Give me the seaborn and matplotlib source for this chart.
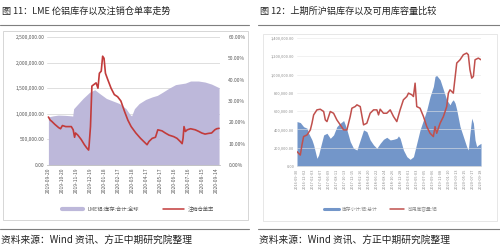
"""
LME / SHFE aluminium inventory panels (fig 11 and fig 12)
Output: out.png
"""

import matplotlib.pyplot as plt
import matplotlib.ticker as mticker
from matplotlib.lines import Line2D
from matplotlib.patches import Rectangle
import numpy as np
import pandas as pd
import seaborn as sns

sns.set_style('white')
plt.rcParams['font.family'] = ['Noto Sans CJK SC', 'DejaVu Sans']
plt.rcParams['axes.unicode_minus'] = False

AREA_PURPLE = '#BDB8DA'
LINE_RED = '#C23B3B'
AREA_BLUE = '#7396C9'
LINE_RED2 = '#C0504D'
GRID = '#D9D9D9'
TICK = '#595959'

# ---- fig 11: LME aluminium stock and cancelled warrant ratio ----
lme_dates = ['2019-09-20', '2019-09-30', '2019-10-11', '2019-10-25', '2019-11-08',
             '2019-11-11', '2019-11-13', '2019-11-23', '2019-12-03', '2019-12-17',
             '2019-12-28', '2020-01-07', '2020-01-22', '2020-02-05', '2020-02-19',
             '2020-03-04', '2020-03-13', '2020-03-16', '2020-03-22', '2020-04-01',
             '2020-04-15', '2020-04-29', '2020-05-10', '2020-05-21', '2020-06-04',
             '2020-06-18', '2020-07-09', '2020-07-20', '2020-08-06', '2020-08-20',
             '2020-09-03', '2020-09-19']
lme_stock = [940000, 960000, 975000, 970000, 960000,
             955000, 1100000, 1200000, 1300000, 1420000,
             1470000, 1400000, 1300000, 1250000, 1200000,
             1100000, 980000, 960000, 1100000, 1200000,
             1280000, 1330000, 1360000, 1420000, 1500000,
             1570000, 1600000, 1640000, 1640000, 1620000,
             1580000, 1510000]

ratio_dates = ['2019-09-20', '2019-09-24', '2019-09-27', '2019-10-04', '2019-10-12',
               '2019-10-16', '2019-10-20', '2019-10-27', '2019-11-08', '2019-11-12',
               '2019-11-15', '2019-11-17', '2019-11-22', '2019-11-29', '2019-12-06',
               '2019-12-11', '2019-12-15', '2019-12-16', '2019-12-19', '2019-12-22',
               '2019-12-28', '2019-12-31', '2020-01-04', '2020-01-07', '2020-01-11',
               '2020-01-14', '2020-01-17', '2020-01-20', '2020-01-25', '2020-02-01',
               '2020-02-08', '2020-02-15', '2020-02-22', '2020-03-01', '2020-03-08',
               '2020-03-15', '2020-03-25', '2020-04-04', '2020-04-11', '2020-04-18',
               '2020-04-22', '2020-04-29', '2020-05-06', '2020-05-11', '2020-05-20',
               '2020-05-27', '2020-06-04', '2020-06-14', '2020-06-21', '2020-06-28',
               '2020-07-02', '2020-07-04', '2020-07-06', '2020-07-09', '2020-07-13',
               '2020-07-20', '2020-07-30', '2020-08-06', '2020-08-13', '2020-08-20',
               '2020-08-27', '2020-09-03', '2020-09-10', '2020-09-14', '2020-09-19']
ratio_pct = [22.5, 21.0, 20.5, 19.0, 17.5,
             17.0, 18.5, 18.0, 18.0, 16.5,
             13.0, 15.0, 14.0, 12.0, 9.5,
             8.0, 7.0, 9.0, 18.0, 37.0,
             38.0, 38.5, 36.0, 43.0, 44.0,
             51.0, 50.0, 43.0, 40.0, 36.0,
             33.0, 32.0, 30.0, 25.0, 21.0,
             18.0, 15.0, 12.5, 11.0, 9.5,
             11.0, 12.5, 13.0, 16.5, 16.0,
             15.0, 14.0, 13.3, 12.5, 11.0,
             10.0, 12.5, 18.0, 15.7, 16.5,
             17.0, 16.5, 15.8, 15.0, 14.5,
             14.8, 15.0, 16.5, 17.0, 17.2]

lme_ticks = ['2019-09-20', '2019-10-20', '2019-11-19', '2019-12-19', '2020-01-18',
             '2020-02-17', '2020-03-18', '2020-04-17', '2020-05-17', '2020-06-16',
             '2020-07-16', '2020-08-15', '2020-09-14']

# ---- fig 12: SHFE aluminium stock and available capacity ----
shfe_dates = ['2016-09-30', '2016-10-26', '2016-11-21', '2016-12-18', '2016-12-31',
              '2017-01-26', '2017-02-08', '2017-02-21', '2017-03-06', '2017-03-19',
              '2017-04-01', '2017-04-28', '2017-05-24', '2017-06-19', '2017-07-15',
              '2017-08-10', '2017-09-06', '2017-10-02', '2017-10-15', '2017-10-28',
              '2017-11-23', '2017-12-19', '2018-01-15', '2018-02-10', '2018-03-08',
              '2018-04-03', '2018-04-29', '2018-05-26', '2018-06-21', '2018-07-17',
              '2018-08-12', '2018-09-07', '2018-10-04', '2018-10-30', '2018-11-25',
              '2018-12-08', '2018-12-21', '2019-01-16', '2019-02-12', '2019-03-10',
              '2019-04-05', '2019-05-01', '2019-05-27', '2019-06-23', '2019-07-19',
              '2019-08-14', '2019-09-09', '2019-09-22', '2019-10-05', '2019-11-01',
              '2019-11-27', '2019-12-23', '2020-01-18', '2020-01-31', '2020-02-13',
              '2020-02-27', '2020-03-11', '2020-04-06', '2020-05-02', '2020-05-28',
              '2020-06-10', '2020-06-23', '2020-07-07', '2020-07-20', '2020-08-02',
              '2020-08-15', '2020-08-28', '2020-09-18']
shfe_stock = [486000, 475000, 430000, 413000, 358000,
              285000, 230000, 157000, 84000, 120000,
              194000, 340000, 358000, 303000, 340000,
              431000, 468000, 497000, 450000, 395000,
              267000, 194000, 175000, 285000, 395000,
              376000, 285000, 230000, 194000, 248000,
              292000, 314000, 285000, 292000, 303000,
              329000, 303000, 175000, 102000, 73000,
              102000, 248000, 395000, 504000, 614000,
              760000, 870000, 980000, 990000, 943000,
              833000, 724000, 669000, 705000, 724000,
              687000, 614000, 431000, 322000, 212000,
              175000, 358000, 523000, 468000, 285000,
              212000, 230000, 248000]

cap_dates = ['2016-09-30', '2016-10-26', '2016-11-08', '2016-11-21', '2016-12-18',
             '2017-01-13', '2017-01-26', '2017-02-08', '2017-03-06', '2017-04-01',
             '2017-04-28', '2017-05-11', '2017-05-24', '2017-06-19', '2017-07-15',
             '2017-08-10', '2017-09-06', '2017-10-02', '2017-10-28', '2017-11-23',
             '2017-12-06', '2018-01-01', '2018-01-15', '2018-02-10', '2018-03-08',
             '2018-04-03', '2018-04-29', '2018-05-26', '2018-06-21', '2018-07-04',
             '2018-07-17', '2018-08-12', '2018-09-07', '2018-10-04', '2018-10-30',
             '2018-11-25', '2018-12-21', '2019-01-16', '2019-02-12', '2019-02-25',
             '2019-03-23', '2019-04-05', '2019-04-18', '2019-05-01', '2019-05-27',
             '2019-06-23', '2019-07-19', '2019-08-14', '2019-09-09', '2019-09-22',
             '2019-10-05', '2019-11-01', '2019-11-27', '2019-12-23', '2020-01-05',
             '2020-01-18', '2020-01-31', '2020-02-13', '2020-03-11', '2020-04-06',
             '2020-05-02', '2020-05-28', '2020-06-10', '2020-06-23', '2020-07-07',
             '2020-07-20', '2020-08-02', '2020-08-28', '2020-09-18']
cap_value = [157000, 120000, 230000, 322000, 340000,
             395000, 468000, 559000, 614000, 621000,
             596000, 504000, 486000, 596000, 577000,
             504000, 450000, 395000, 395000, 541000,
             632000, 650000, 669000, 650000, 450000,
             468000, 577000, 614000, 614000, 559000,
             621000, 577000, 577000, 614000, 541000,
             486000, 614000, 724000, 760000, 797000,
             779000, 760000, 906000, 650000, 632000,
             541000, 431000, 358000, 322000, 431000,
             358000, 468000, 541000, 650000, 797000,
             833000, 815000, 797000, 1126000, 1162000,
             1217000, 1235000, 1217000, 1053000, 961000,
             980000, 1162000, 1180000, 1162000]

titles = ['图 11：LME 伦铝库存以及注销仓单率走势', '图 12：上期所沪铝库存以及可用库容量比较']
source = '资料来源：Wind 资讯、方正中期研究院整理'

W, H = 500, 249


def fx(px):
    return px / W


def fy(py):
    return 1 - py / H


def frame(fig, x0, x1, title):
    fig.text(fx(x0 + 2), fy(11), title, fontsize=6.6, color='#222222', va='center')
    fig.add_artist(Line2D([fx(x0), fx(x1)], [fy(25), fy(25)], color='#7F7F7F', lw=0.8))
    fig.add_artist(Line2D([fx(x0), fx(x1)], [fy(229), fy(229)], color='#7F7F7F', lw=0.8))
    fig.text(fx(x0 + 1), fy(240), source, fontsize=7.0, color='#222222', va='center')


fig = plt.figure(figsize=(5.0, 2.49), dpi=100)

frame(fig, 0, 249, titles[0])
frame(fig, 258, 500, titles[1])
fig.add_artist(Rectangle((fx(3), fy(220)), fx(245), (220 - 31) / H, transform=fig.transFigure,
                         fill=False, edgecolor='#D0D0D0', lw=0.6))
fig.add_artist(Rectangle((fx(263), fy(221)), fx(234), (221 - 34) / H, transform=fig.transFigure,
                         fill=False, edgecolor='#E3E3E3', lw=0.6))

# ---- left panel ----
ax1 = fig.add_axes([fx(47), fy(165), fx(173), 128 / H])
lme = pd.DataFrame({'date': pd.to_datetime(lme_dates), 'stock': lme_stock})
ratio = pd.DataFrame({'date': pd.to_datetime(ratio_dates), 'pct': ratio_pct})

ax1.fill_between(lme['date'], 0, lme['stock'], color=AREA_PURPLE, lw=0, zorder=2)
ax1.set_ylim(0, 2500000)
ax1.set_yticks(np.arange(0, 2500001, 500000))
ax1.yaxis.set_major_formatter(mticker.FuncFormatter(lambda v, p: f'{v:,.2f}'))
ax1.set_xlim(pd.Timestamp('2019-09-17'), pd.Timestamp('2020-09-21'))
ax1.set_xticks(pd.to_datetime(lme_ticks))
ax1.set_xticklabels(lme_ticks, rotation=90)
ax1.grid(axis='y', color=GRID, lw=0.6, zorder=0)
ax1.set_axisbelow(True)
ax1.tick_params(labelsize=3.6, colors=TICK, length=0, pad=2)
ax1.set_xlabel('')
ax1.set_ylabel('')
for s in ['top', 'right', 'left']:
    ax1.spines[s].set_visible(False)
ax1.spines['bottom'].set_color('#BFBFBF')
ax1.spines['bottom'].set_linewidth(0.6)

ax1b = ax1.twinx()
sns.lineplot(data=ratio, x='date', y='pct', ax=ax1b, color=LINE_RED, lw=1.2)
ax1b.set_ylim(0, 60)
ax1b.set_yticks(np.arange(0, 61, 10))
ax1b.yaxis.set_major_formatter(mticker.FuncFormatter(lambda v, p: f'{v:.2f}%'))
ax1b.tick_params(labelsize=3.6, colors=TICK, length=0, pad=6)
ax1b.set_ylabel('')
ax1b.set_xlabel('')
for s in ax1b.spines.values():
    s.set_visible(False)

handles1 = [Line2D([], [], color=AREA_PURPLE, lw=3.0), Line2D([], [], color=LINE_RED, lw=1.1)]
fig.legend(handles1, ['LME铝:库存:合计:全球', '注销仓单率'], loc='center',
           bbox_to_anchor=(fx(138), fy(209)), ncol=2, frameon=False, fontsize=3.8,
           handlelength=4.0, columnspacing=4.5, labelcolor=TICK)

# ---- right panel ----
ax2 = fig.add_axes([fx(297), fy(166), fx(184), 128 / H])
shfe = pd.DataFrame({'date': pd.to_datetime(shfe_dates), 'stock': shfe_stock})
cap = pd.DataFrame({'date': pd.to_datetime(cap_dates), 'cap': cap_value})

ax2.fill_between(shfe['date'], 0, shfe['stock'], color=AREA_BLUE, lw=0, zorder=1)
for v in np.arange(200000, 1400001, 200000):
    ax2.axhline(v, color='#E6E6E6', lw=0.5, zorder=1.5, alpha=0.8)
sns.lineplot(data=cap, x='date', y='cap', ax=ax2, color=LINE_RED2, lw=1.1, zorder=3)
ax2.set_ylim(0, 1400000)
ax2.set_yticks(np.arange(0, 1400001, 200000))
ax2.yaxis.set_major_formatter(mticker.FuncFormatter(lambda v, p: f'{v:,.2f}'))
ax2.set_xlim(shfe['date'].min(), shfe['date'].max())
tick_pos = pd.date_range(shfe['date'].min(), shfe['date'].max(), periods=24)
ax2.set_xticks(tick_pos)
ax2.set_xticklabels([d.strftime('%Y-%m-%d') for d in tick_pos], rotation=90)
ax2.tick_params(labelsize=2.8, colors='#8C8C8C', length=0, pad=2)
ax2.set_xlabel('')
ax2.set_ylabel('')
for s in ['top', 'right', 'left']:
    ax2.spines[s].set_visible(False)
ax2.spines['bottom'].set_color('#D9D9D9')
ax2.spines['bottom'].set_linewidth(0.5)

handles2 = [Line2D([], [], color=AREA_BLUE, lw=2.2), Line2D([], [], color=LINE_RED2, lw=1.1)]
fig.legend(handles2, ['库存小计:铝:总计', '可用库容量:铝'], loc='center',
           bbox_to_anchor=(fx(381), fy(209)), ncol=2, frameon=False, fontsize=3.4,
           handlelength=3.0, columnspacing=2.5, labelcolor='#8C8C8C')

fig.savefig('out.png', dpi=100)
plt.close(fig)
